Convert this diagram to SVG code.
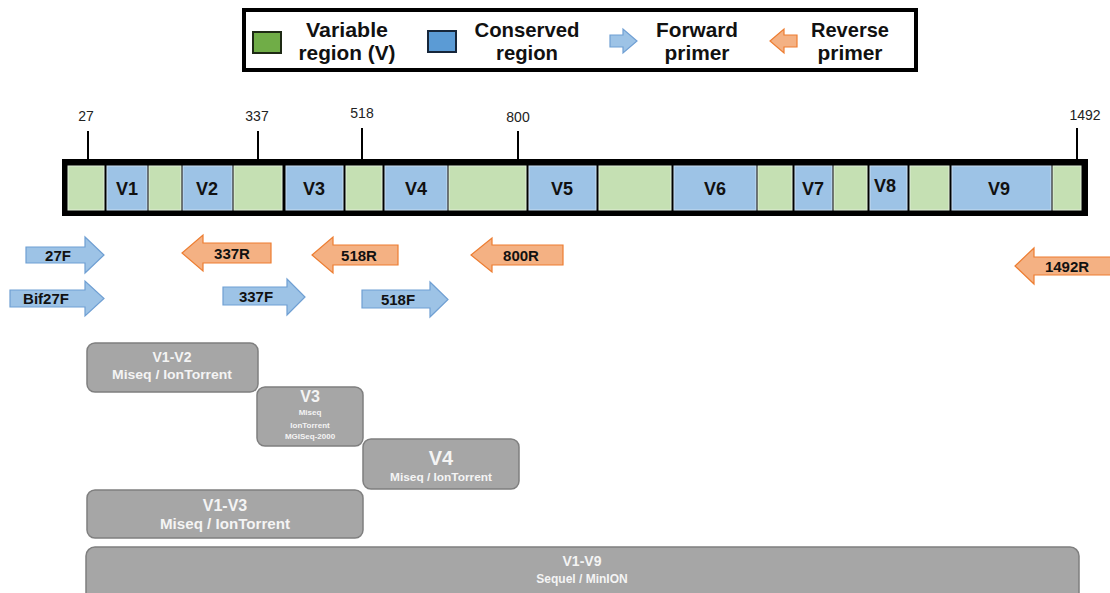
<svg xmlns="http://www.w3.org/2000/svg" width="1110" height="593" viewBox="0 0 1110 593">
<style>
.lg{font-family:"Liberation Sans",Arial,sans-serif;font-weight:bold;font-size:21px;fill:#111;text-anchor:middle}
.g{fill:#c5e0b3;stroke:#e2efd9;stroke-width:1}
.b{fill:#9dc3e6;stroke:#c9def2;stroke-width:1}
.vl{font-family:"Liberation Sans",Arial,sans-serif;font-weight:bold;font-size:18px;fill:#111;text-anchor:middle}
.tk{stroke:#000;stroke-width:2}
.tl{font-family:"Liberation Sans",Arial,sans-serif;font-size:14px;fill:#222;text-anchor:middle}
.fw{fill:#9dc3e6;stroke:#6f9fd3;stroke-width:1.2}
.rv{fill:#f4b183;stroke:#ed7d31;stroke-width:1.2}
.pl{font-family:"Liberation Sans",Arial,sans-serif;font-weight:bold;font-size:15px;fill:#111;text-anchor:middle}
.bx{fill:#a6a6a6;stroke:#7f7f7f;stroke-width:1.5}
.bt{font-family:"Liberation Sans",Arial,sans-serif;font-weight:bold;fill:#f4f4f4;text-anchor:middle}
</style>
<rect width="1110" height="593" fill="#fff"/>
<g id="legend">
<rect x="244" y="10" width="672" height="60" fill="#fff" stroke="#000" stroke-width="4"/>
<rect x="253" y="32" width="28" height="21" fill="#70ad47" stroke="#1e2a14" stroke-width="2"/>
<text class="lg" x="347" y="37" textLength="82" lengthAdjust="spacingAndGlyphs">Variable</text>
<text class="lg" x="347" y="60" textLength="97" lengthAdjust="spacingAndGlyphs">region (V)</text>
<rect x="428" y="31" width="28" height="21" fill="#5b9bd5" stroke="#16263a" stroke-width="2"/>
<text class="lg" x="527" y="37" textLength="105" lengthAdjust="spacingAndGlyphs">Conserved</text>
<text class="lg" x="527" y="60" textLength="62" lengthAdjust="spacingAndGlyphs">region</text>
<path class="fw" d="M610,35 H623 V29 L637,41 L623,53 V47 H610 Z"/>
<text class="lg" x="697" y="37" textLength="82" lengthAdjust="spacingAndGlyphs">Forward</text>
<text class="lg" x="697" y="60" textLength="65" lengthAdjust="spacingAndGlyphs">primer</text>
<path class="rv" d="M797,35 H784 V29 L770,41 L784,53 V47 H797 Z"/>
<text class="lg" x="850" y="37" textLength="78" lengthAdjust="spacingAndGlyphs">Reverse</text>
<text class="lg" x="850" y="60" textLength="65" lengthAdjust="spacingAndGlyphs">primer</text>
</g>
<g id="gene">
<rect x="62" y="159" width="1026" height="57" fill="#000"/>
<rect class="g" x="68" y="166" width="36" height="44"/>
<rect class="b" x="107" y="166" width="40" height="44"/>
<rect class="g" x="149" y="166" width="32" height="44"/>
<rect class="b" x="183" y="166" width="49" height="44"/>
<rect class="g" x="234" y="166" width="48" height="44"/>
<rect class="b" x="286" y="166" width="57" height="44"/>
<rect class="g" x="346" y="166" width="36" height="44"/>
<rect class="b" x="385" y="166" width="62" height="44"/>
<rect class="g" x="449" y="166" width="77" height="44"/>
<rect class="b" x="529" y="166" width="67" height="44"/>
<rect class="g" x="599" y="166" width="72" height="44"/>
<rect class="b" x="674" y="166" width="82" height="44"/>
<rect class="g" x="758" y="166" width="34" height="44"/>
<rect class="b" x="795" y="166" width="37" height="44"/>
<rect class="g" x="834" y="166" width="33" height="44"/>
<rect class="b" x="870" y="166" width="37" height="44"/>
<rect class="g" x="910" y="166" width="39" height="44"/>
<rect class="b" x="952" y="166" width="99" height="44"/>
<rect class="g" x="1053" y="166" width="28" height="44"/>
<text class="vl" x="127" y="195">V1</text>
<text class="vl" x="207" y="195">V2</text>
<text class="vl" x="314" y="195">V3</text>
<text class="vl" x="416" y="195">V4</text>
<text class="vl" x="562" y="195">V5</text>
<text class="vl" x="715" y="195">V6</text>
<text class="vl" x="813" y="195">V7</text>
<text class="vl" x="885" y="192">V8</text>
<text class="vl" x="999" y="195">V9</text>
</g>
<g id="ticks">
<line class="tk" x1="88" y1="131" x2="88" y2="160"/>
<line class="tk" x1="258" y1="131" x2="258" y2="160"/>
<line class="tk" x1="362" y1="128" x2="362" y2="160"/>
<line class="tk" x1="518" y1="131" x2="518" y2="160"/>
<line class="tk" x1="1077" y1="128" x2="1077" y2="160"/>
<text class="tl" x="86" y="121">27</text>
<text class="tl" x="257" y="121">337</text>
<text class="tl" x="362" y="118">518</text>
<text class="tl" x="518" y="122">800</text>
<text class="tl" x="1085" y="120">1492</text>
</g>
<g id="primer-27F"><path class="fw" d="M26,247 H85 V237 L104,255 L85,273 V263 H26 Z"/><text class="pl" x="58" y="261">27F</text></g>
<g id="primer-Bif27F"><path class="fw" d="M10,290 H85 V281 L104,298.5 L85,316 V307 H10 Z"/><text class="pl" x="46" y="304">Bif27F</text></g>
<g id="primer-337R"><path class="rv" d="M271,243 H203 V235 L182,253 L203,271 V263 H271 Z"/><text class="pl" x="232" y="259">337R</text></g>
<g id="primer-518R"><path class="rv" d="M398,245 H333 V237 L312,255 L333,273 V265 H398 Z"/><text class="pl" x="359" y="261">518R</text></g>
<g id="primer-337F"><path class="fw" d="M223,287 H287 V279 L305,297 L287,315 V305 H223 Z"/><text class="pl" x="256" y="302">337F</text></g>
<g id="primer-518F"><path class="fw" d="M362,290 H430 V282 L448,299.5 L430,317 V308 H362 Z"/><text class="pl" x="398" y="305">518F</text></g>
<g id="primer-800R"><path class="rv" d="M563,245 H492 V238 L471,255 L492,272 V265 H563 Z"/><text class="pl" x="521" y="261">800R</text></g>
<g id="primer-1492R"><path class="rv" d="M1112,257 H1034 V248 L1015,266 L1034,284 V275 H1112 Z"/><text class="pl" x="1067" y="272">1492R</text></g>
<g id="amp-V1-V2"><rect class="bx" x="87" y="343" width="171" height="49" rx="8"/><text class="bt" x="172" y="362" font-size="14">V1-V2</text><text class="bt" x="172" y="379" font-size="13" textLength="120" lengthAdjust="spacingAndGlyphs">Miseq / IonTorrent</text></g>
<g id="amp-V3"><rect class="bx" x="257" y="387" width="106" height="59" rx="8"/><text class="bt" x="310" y="402" font-size="16">V3</text><text class="bt" x="310" y="415" font-size="8">Miseq</text><text class="bt" x="310" y="428" font-size="8">IonTorrent</text><text class="bt" x="310" y="439" font-size="8">MGISeq-2000</text></g>
<g id="amp-V4"><rect class="bx" x="363" y="439" width="156" height="50" rx="8"/><text class="bt" x="441" y="465" font-size="20">V4</text><text class="bt" x="441" y="481" font-size="11" textLength="102" lengthAdjust="spacingAndGlyphs">Miseq / IonTorrent</text></g>
<g id="amp-V1-V3"><rect class="bx" x="87" y="490" width="276" height="48" rx="8"/><text class="bt" x="225" y="511" font-size="16">V1-V3</text><text class="bt" x="225" y="529" font-size="14" textLength="130" lengthAdjust="spacingAndGlyphs">Miseq / IonTorrent</text></g>
<g id="amp-V1-V9"><rect class="bx" x="86" y="547" width="993" height="56" rx="9"/><text class="bt" x="582" y="566" font-size="14">V1-V9</text><text class="bt" x="582" y="583" font-size="12">Sequel / MinION</text></g>
</svg>
